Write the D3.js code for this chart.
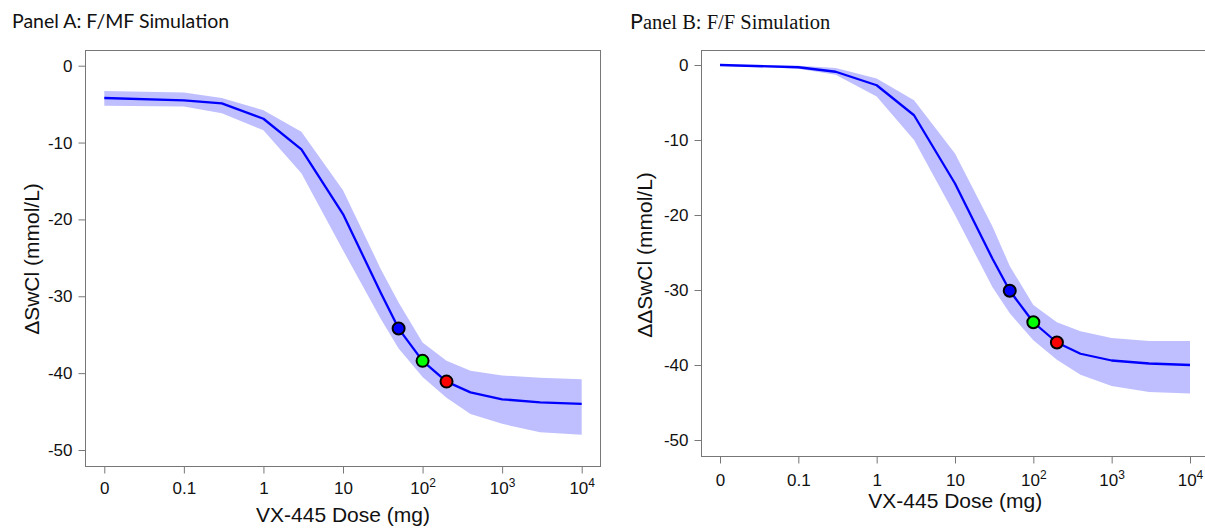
<!DOCTYPE html>
<html>
<head>
<meta charset="utf-8">
<script src="https://cdn.jsdelivr.net/npm/d3@7"></script>
<style>
  body { margin: 0; background: #fff; }
  svg { display: block; }
  svg text { font-family: "Liberation Sans", Arimo, Arial, Helvetica, sans-serif; fill: #111; }
</style>
</head>
<body>
<svg id="chart" width="1205" height="528" font-family="Liberation Sans"></svg>
<script>
// dose grid (0 is drawn at the 0.01 position)
const doses = [0, 0.1, 0.3, 1, 3, 10, 30, 50, 100, 200, 400, 1000, 3000, 10000]

// Panel A: F/MF
const lineA  = [-4.2, -4.5, -4.9, -6.9, -10.9, -19.3, -29.6, -34.2, -38.4, -41.1, -42.5, -43.4, -43.8, -44.0]
const upperA = [-3.3, -3.5, -4.2, -5.8, -8.6, -16.2, -26.5, -30.8, -36.0, -38.4, -39.7, -40.3, -40.6, -40.8]
const lowerA = [-5.2, -5.3, -6.2, -8.4, -14.0, -24.0, -33.0, -36.8, -40.5, -43.2, -45.3, -46.6, -47.7, -48.0]

// Panel B: F/F
const lineB  = [0, -0.3, -0.9, -2.7, -6.7, -15.8, -25.8, -30.1, -34.3, -37.0, -38.5, -39.4, -39.8, -40.0]
const upperB = [0, -0.1, -0.4, -1.8, -4.7, -11.8, -21.5, -26.8, -32.0, -34.3, -35.5, -36.4, -36.8, -36.8]
const lowerB = [-0.1, -0.5, -1.3, -4.2, -10.0, -20.0, -29.6, -33.1, -36.7, -39.3, -41.3, -42.8, -43.6, -43.8]

// highlighted doses
const dotDoses = [50, 100, 200]
const dotColors = ['#0000ff', '#00ff00', '#ff0000']

// ticks
const xTicks = [0, 0.1, 1, 10, 100, 1000, 10000]
const xTickLabels = [['0'], ['0.1'], ['1'], ['10'], ['10', '2'], ['10', '3'], ['10', '4']]
const yTicks = [0, -10, -20, -30, -40, -50]

const sansFont = '"Liberation Sans", Arimo, Arial, Helvetica, sans-serif'
const svg = d3.select('#chart')
const pos = (d) => d === 0 ? 0.01 : d

const drawPanel = (p) => {
    const x = d3.scaleLog().domain([0.01, 10000]).range(p.xRange)
    const y = d3.scaleLinear().domain([-50, 0]).range(p.yRange)
    const g = svg.append('g')

    const pts = doses.map((d, i) => ({ d, v: p.line[i], hi: p.upper[i], lo: p.lower[i] }))

    g.append('path')
        .datum(pts)
        .attr('fill', '#bfbfff')
        .attr('d', d3.area().x(o => x(pos(o.d))).y0(o => y(o.lo)).y1(o => y(o.hi)))

    g.append('path')
        .datum(pts)
        .attr('fill', 'none')
        .attr('stroke', '#0000ff')
        .attr('stroke-width', 2.3)
        .attr('stroke-linejoin', 'round')
        .attr('d', d3.line().x(o => x(pos(o.d))).y(o => y(o.v)))

    g.selectAll('circle')
        .data(dotDoses)
        .enter()
        .append('circle')
        .attr('cx', d => x(d))
        .attr('cy', d => y(p.line[doses.indexOf(d)]))
        .attr('r', 6)
        .attr('fill', (d, i) => dotColors[i])
        .attr('stroke', '#000')
        .attr('stroke-width', 2)

    // box
    g.append('rect')
        .attr('x', p.box[0])
        .attr('y', p.box[1])
        .attr('width', p.box[2] - p.box[0])
        .attr('height', p.box[3] - p.box[1])
        .attr('fill', 'none')
        .attr('stroke', '#777')
        .attr('stroke-width', 1)

    // x axis
    const xAxis = g.append('g')
        .attr('transform', 'translate(0,' + p.box[3] + ')')
        .call(d3.axisBottom(x).tickValues(xTicks.map(pos)).tickSize(7).tickFormat(''))
    xAxis.attr('font-family', null)
    xAxis.select('.domain').remove()
    xAxis.selectAll('.tick line').attr('stroke', '#777')
    xAxis.selectAll('.tick text').each(function(d, i) {
        const t = d3.select(this)
            .attr('y', p.xLabelY - p.box[3])
            .attr('dy', null)
            .style('font-family', sansFont)
            .style('font-size', '17px')
            .attr('fill', '#111')
        const lab = xTickLabels[i]
        t.append('tspan').text(lab[0])
        if (lab[1]) {
            t.append('tspan').attr('dy', -7).style('font-size', '12px').text(lab[1])
        }
    })

    // y axis
    const yAxis = g.append('g')
        .attr('transform', 'translate(' + p.box[0] + ',0)')
        .call(d3.axisLeft(y).tickValues(yTicks).tickSize(7).tickPadding(6).tickFormat(d3.format('d')))
    yAxis.attr('font-family', null)
    yAxis.select('.domain').remove()
    yAxis.selectAll('.tick line').attr('stroke', '#777')
    yAxis.selectAll('.tick text')
        .style('font-family', sansFont)
        .style('font-size', '17px')
        .attr('fill', '#111')
        .text(d => d === 0 ? '0' : '-' + Math.abs(d))

    g.append('text')
        .attr('x', (p.box[0] + p.box[2]) / 2)
        .attr('y', p.titleY)
        .attr('text-anchor', 'middle')
        .style('font-family', sansFont)
        .style('font-size', '21px')
        .text('VX-445 Dose (mg)')

    g.append('text')
        .attr('transform', 'translate(' + p.yTitle[0] + ',' + p.yTitle[1] + ') rotate(-90)')
        .attr('text-anchor', 'middle')
        .attr('dy', '0.35em')
        .style('font-family', sansFont)
        .style('font-size', '21px')
        .text(p.yLabel)
}

drawPanel({
    line: lineA, upper: upperA, lower: lowerA,
    xRange: [104.3, 581.7], yRange: [450, 65.7],
    box: [85.5, 50.5, 600.5, 466.5],
    xLabelY: 494, titleY: 522,
    yTitle: [32, 259], yLabel: '\u0394SwCl (mmol/L)'
})

drawPanel({
    line: lineB, upper: upperB, lower: lowerB,
    xRange: [720, 1190], yRange: [440, 65],
    box: [701.5, 50.5, 1209, 456.5],
    xLabelY: 486, titleY: 508,
    yTitle: [645, 255], yLabel: '\u0394\u0394SwCl (mmol/L)'
})

// panel captions
svg.append('text')
    .attr('x', 12).attr('y', 28)
    .style('font-family', 'Lato, "Open Sans", sans-serif')
    .style('font-size', '19.5px')
    .text('Panel A: F/MF Simulation')

const capB = svg.append('text')
    .attr('x', 630).attr('y', 29)
    .style('font-family', '"Liberation Serif", "Times New Roman", serif')
    .style('font-size', '20.5px')
capB.append('tspan').style('font-family', 'Lato, sans-serif').style('font-size', '21.5px').text('P')
capB.append('tspan').text('anel B: F/F Simulation')
</script>
</body>
</html>
